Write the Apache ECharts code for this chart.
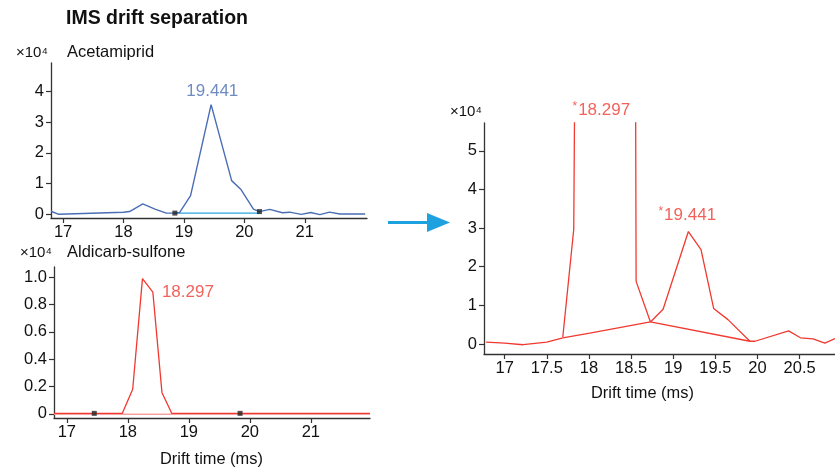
<!DOCTYPE html>
<html>
<head>
<meta charset="utf-8">
<script src="https://cdn.jsdelivr.net/npm/echarts@6/dist/echarts.min.js"></script>
<style>
html,body{margin:0;padding:0;background:#fff;}
#c{width:835px;height:468px;}
</style>
</head>
<body>
<div id="c"></div>
<script>
// ---- Data (drift time in ms, intensity in x10^4 counts) ----
var acetX = [16.8, 16.93, 18.0, 18.1, 18.32, 18.52, 18.71, 18.85, 18.93, 19.11, 19.45, 19.79, 19.94, 20.15, 20.25, 20.42, 20.63, 20.75, 20.94, 21.1, 21.25, 21.41, 21.58, 22.0];
var acetY = [0.09, -0.01, 0.06, 0.08, 0.33, 0.16, 0.03, 0.03, 0.05, 0.6, 3.57, 1.09, 0.81, 0.16, 0.08, 0.15, 0.04, 0.06, -0.01, 0.05, -0.02, 0.06, 0.0, 0.0];
var acetBaseX = [18.85, 20.25];
var acetBaseY = [0.03, 0.03];
var acetMarkX = [18.85, 20.25];
var acetMarkY = [0.03, 0.08];

var aldX = [16.79, 17.91, 18.08, 18.24, 18.41, 18.56, 18.72, 21.97];
var aldY = [0.004, 0.004, 0.18, 0.988, 0.89, 0.155, 0.004, 0.004];
var aldBaseX = [16.79, 21.97];
var aldBaseY = [-0.003, -0.003];
var aldMarkX = [17.45, 19.84];
var aldMarkY = [0.004, 0.004];

// merged trace (right)
var bgX = [16.78, 17.0, 17.22, 17.5, 17.69, 18.01, 18.73];
var bgY = [0.05, 0.02, -0.02, 0.05, 0.16, 0.28, 0.57];
var spikeX = [17.69, 17.82, 17.84, 18.55, 18.56, 18.73];
var spikeY = [0.18, 2.97, 9.5, 9.5, 1.62, 0.57];
var pk2X = [18.73, 18.88, 19.18, 19.33, 19.48, 19.65, 19.91];
var pk2Y = [0.57, 0.9, 2.91, 2.44, 0.92, 0.63, 0.07];
var fallX = [18.73, 19.91];
var fallY = [0.57, 0.07];
var tailX = [19.91, 19.97, 20.37, 20.51, 20.66, 20.8, 20.92];
var tailY = [0.07, 0.07, 0.34, 0.16, 0.13, 0.02, 0.14];

// tick labels
var ticksTopX = [17, 18, 19, 20, 21];
var ticksTopY = [0, 1, 2, 3, 4];
var ticksBotX = [17, 18, 19, 20, 21];
var ticksBotY = [0, 0.2, 0.4, 0.6, 0.8, 1.0];
var ticksRX = [17, 17.5, 18, 18.5, 19, 19.5, 20, 20.5];
var ticksRY = [0, 1, 2, 3, 4, 5];

// peak annotations
var peakLabels = [
  {grid: 0, x: 19.47, y: 3.99, text: '19.441', color: '#4a6eb3'},
  {grid: 1, x: 18.985, y: 0.889, text: '18.297', color: '#ef3b32'},
  {grid: 2, x: 18.147, y: 6.06, text: '{s|*}{n|18.297}', color: '#ef3b32'},
  {grid: 2, x: 19.167, y: 3.34, text: '{s|*}{n|19.441}', color: '#ef3b32'}
];

function zip(xs, ys){ return xs.map(function(x,i){ return [x, ys[i]]; }); }

var NUM_FONT = "'Liberation Sans',Arial,sans-serif";
var TXT_FONT = "'Liberation Sans',Arial,sans-serif";
var NUM_SIZE = 16.5;
var BLUE = '#4a6eb3', RED = '#f0392f';

function xAxis(gi, min, max, ticks){
  return {
    type: 'value', gridIndex: gi, min: min, max: max,
    axisLine: {show: true, onZero: false, lineStyle: {color: '#333', width: 1.3}},
    axisTick: {show: true, length: 5, customValues: ticks, lineStyle: {color: '#333', width: 1.2}},
    axisLabel: {customValues: ticks, fontFamily: NUM_FONT, fontSize: NUM_SIZE, color: '#111', margin: 6},
    splitLine: {show: false}
  };
}
function yAxis(gi, min, max, ticks, fmt){
  return {
    type: 'value', gridIndex: gi, min: min, max: max,
    axisLine: {show: true, onZero: false, lineStyle: {color: '#333', width: 1.3}},
    axisTick: {show: true, length: 5, customValues: ticks, lineStyle: {color: '#333', width: 1.2}},
    axisLabel: {customValues: ticks, fontFamily: NUM_FONT, fontSize: NUM_SIZE, color: '#111', margin: 7, formatter: fmt},
    splitLine: {show: false}
  };
}
function line(gi, data, color, width, z){
  return {
    type: 'line', xAxisIndex: gi, yAxisIndex: gi, data: data, showSymbol: false, symbol: 'none',
    lineStyle: {color: color, width: width}, animation: false, z: z || 2, silent: true
  };
}
function marks(gi, data){
  return {
    type: 'scatter', xAxisIndex: gi, yAxisIndex: gi, data: data, symbol: 'rect', symbolSize: [5, 5],
    itemStyle: {color: '#222'}, animation: false, z: 5, silent: true
  };
}

var series = [
  line(0, zip(acetBaseX, acetBaseY), '#2ba6df', 1.3, 1),
  line(0, zip(acetX, acetY), BLUE, 1.4, 2),
  marks(0, zip(acetMarkX, acetMarkY)),
  line(1, zip(aldBaseX, aldBaseY), '#f5a3a0', 1.5, 1),
  line(1, zip(aldX, aldY), RED, 1.3, 2),
  marks(1, zip(aldMarkX, aldMarkY)),
  line(2, zip(bgX, bgY), RED, 1.3),
  line(2, zip(spikeX, spikeY), RED, 1.3),
  line(2, zip(pk2X, pk2Y), RED, 1.3),
  line(2, zip(fallX, fallY), RED, 1.3),
  line(2, zip(tailX, tailY), RED, 1.3)
];
peakLabels.forEach(function(p){
  series.push({
    type: 'scatter', xAxisIndex: p.grid, yAxisIndex: p.grid, data: [[p.x, p.y]], symbolSize: 0,
    clip: false, animation: false, silent: true, z: 6,
    label: {
      show: true, position: 'inside', formatter: p.text, color: p.color,
      fontFamily: NUM_FONT, fontSize: 17,
      rich: {
        s: {fontFamily: NUM_FONT, fontSize: 12, color: p.color, verticalAlign: 'top', padding: [0, 1, 6, 0]},
        n: {fontFamily: NUM_FONT, fontSize: 17, color: p.color}
      }
    }
  });
});

var chart = echarts.init(document.getElementById('c'), null, {renderer: 'canvas'});
chart.setOption({
  backgroundColor: '#fff',
  animation: false,
  grid: [
    {left: 51, top: 63, width: 316, height: 155},
    {left: 54, top: 267, width: 316, height: 151},
    {left: 484, top: 123, width: 351, height: 231}
  ],
  xAxis: [
    xAxis(0, 16.8, 22.03, ticksTopX),
    xAxis(1, 16.79, 21.97, ticksBotX),
    xAxis(2, 16.755, 20.92, ticksRX)
  ],
  yAxis: [
    yAxis(0, -0.13, 4.93, ticksTopY, function(v){ return String(Math.round(v)); }),
    yAxis(1, -0.03, 1.073, ticksBotY, function(v){ return v === 0 ? '0' : v.toFixed(1); }),
    yAxis(2, -0.26, 5.72, ticksRY, function(v){ return String(Math.round(v)); })
  ],
  series: series,
  graphic: [
    {type: 'text', left: 66, top: 9, style: {text: 'IMS drift separation', font: "bold 19.5px 'Liberation Sans', Arial, sans-serif", fill: '#111'}},
    {type: 'text', left: 16, top: 45, style: {text: '×10⁴', font: "15px " + TXT_FONT, fill: '#111'}},
    {type: 'text', left: 67, top: 44, style: {text: 'Acetamiprid', font: "16.5px " + TXT_FONT, fill: '#111'}},
    {type: 'text', left: 20, top: 245, style: {text: '×10⁴', font: "15px " + TXT_FONT, fill: '#111'}},
    {type: 'text', left: 67, top: 244, style: {text: 'Aldicarb-sulfone', font: "16.5px " + TXT_FONT, fill: '#111'}},
    {type: 'text', left: 450, top: 104, style: {text: '×10⁴', font: "15px " + TXT_FONT, fill: '#111'}},
    {type: 'text', left: 160, top: 451, style: {text: 'Drift time (ms)', font: "16.4px " + TXT_FONT, fill: '#111'}},
    {type: 'text', left: 591, top: 385, style: {text: 'Drift time (ms)', font: "16.4px " + TXT_FONT, fill: '#111'}},
    {type: 'line', shape: {x1: 388, y1: 222.5, x2: 430, y2: 222.5}, style: {stroke: '#1ea1df', lineWidth: 3}},
    {type: 'polygon', shape: {points: [[427, 213], [450, 222.5], [427, 232]]}, style: {fill: '#1ea1df'}}
  ]
});
</script>
</body>
</html>
